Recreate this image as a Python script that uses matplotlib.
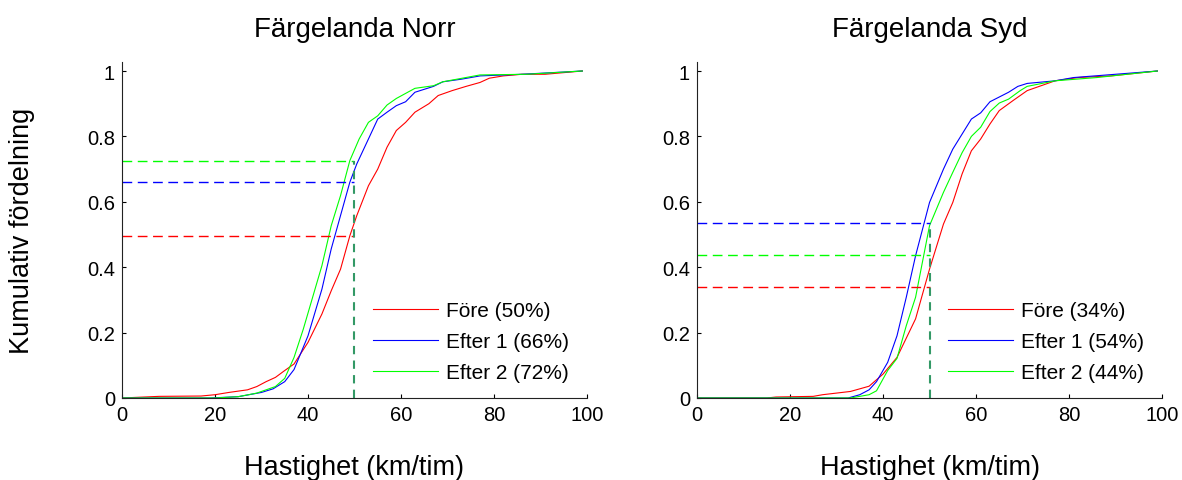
import matplotlib
matplotlib.use("Agg")
import matplotlib.pyplot as plt

plt.rcParams['font.family'] = ['Liberation Sans', 'DejaVu Sans']

# ---- data ----
norr_fore_x = [0, 8, 17, 20, 23, 27, 29, 31, 33, 35, 37, 40, 43, 45, 47, 49, 50.5, 53, 55, 57, 59, 61, 63, 66, 68, 71, 74, 77, 79, 82, 86, 91, 95, 99]
norr_fore_y = [0, 0.005, 0.006, 0.01, 0.017, 0.025, 0.035, 0.05, 0.063, 0.084, 0.104, 0.17, 0.257, 0.328, 0.394, 0.496, 0.558, 0.649, 0.70, 0.767, 0.818, 0.843, 0.874, 0.90, 0.925, 0.94, 0.953, 0.965, 0.978, 0.985, 0.99, 0.99, 0.995, 1.0]
norr_e1_x = [0, 19, 25, 30, 32.5, 35, 37, 40, 43, 45, 47, 49, 50.5, 53, 55, 57, 59, 61, 63, 67, 69, 73, 77, 86, 99]
norr_e1_y = [0, 0, 0.004, 0.017, 0.028, 0.05, 0.087, 0.19, 0.333, 0.456, 0.558, 0.66, 0.716, 0.792, 0.853, 0.874, 0.894, 0.906, 0.935, 0.953, 0.967, 0.975, 0.985, 0.99, 1.0]
norr_e2_x = [0, 20, 25, 29, 33, 35, 37, 39, 43, 45, 47, 49, 51, 53, 55, 57, 59, 63, 67, 69, 77, 87, 99]
norr_e2_y = [0, 0, 0.004, 0.015, 0.035, 0.06, 0.124, 0.211, 0.405, 0.527, 0.619, 0.726, 0.792, 0.843, 0.863, 0.896, 0.916, 0.947, 0.955, 0.967, 0.988, 0.99, 1.0]
norr_pct = [0.494, 0.66, 0.726]
norr_labels = ['Före (50%)', 'Efter 1 (66%)', 'Efter 2 (72%)']

syd_fore_x = [0, 15, 17, 25, 27, 30, 33, 37, 40, 43, 47, 50, 53, 55, 57, 59, 61, 63, 65, 68, 71, 77, 82, 89, 99]
syd_fore_y = [0, 0, 0.003, 0.005, 0.01, 0.015, 0.02, 0.036, 0.073, 0.124, 0.242, 0.394, 0.532, 0.598, 0.685, 0.756, 0.792, 0.838, 0.879, 0.91, 0.94, 0.97, 0.98, 0.985, 1.0]
syd_e1_x = [0, 32.5, 35, 37, 38.6, 41, 43, 45, 47, 50, 53, 55, 57, 59, 61, 63, 67, 69, 71, 77, 81, 99]
syd_e1_y = [0, 0, 0.01, 0.025, 0.05, 0.109, 0.19, 0.308, 0.435, 0.598, 0.70, 0.761, 0.807, 0.853, 0.872, 0.906, 0.935, 0.953, 0.962, 0.97, 0.98, 1.0]
syd_e2_x = [0, 33, 37, 38.6, 41, 43, 45, 47, 50, 53, 55, 57, 59, 61, 63, 65, 67, 69.5, 71, 77, 86, 99]
syd_e2_y = [0, 0, 0.01, 0.022, 0.084, 0.121, 0.221, 0.308, 0.527, 0.629, 0.69, 0.75, 0.80, 0.828, 0.876, 0.902, 0.914, 0.94, 0.953, 0.97, 0.98, 1.0]
syd_pct = [0.34, 0.535, 0.438]
syd_labels = ['Före (34%)', 'Efter 1 (54%)', 'Efter 2 (44%)']

limit = 50
colors = ['#ff0000', '#0000ff', '#00ff00']


def draw(ax, curves, pct, labels, title):
    for (x, y), c, lab in zip(curves, colors, labels):
        ax.plot(x, y, color=c, lw=0.8, label=lab)
    for p, c in zip(pct, colors):
        ax.plot([0, limit], [p, p], color=c, lw=1.0, dashes=(7, 4))
    ax.plot([limit, limit], [0, max(pct)], color='#339966', lw=1.5, dashes=(4, 3))
    ax.set_xlim(0, 100)
    ax.set_ylim(0, 1.0275)
    ax.set_xticks([0, 20, 40, 60, 80, 100])
    ax.set_yticks([0, 0.2, 0.4, 0.6, 0.8, 1])
    ax.set_yticklabels(['0', '0.2', '0.4', '0.6', '0.8', '1'])
    ax.spines['top'].set_visible(False)
    ax.spines['right'].set_visible(False)
    for s in ('left', 'bottom'):
        ax.spines[s].set_linewidth(0.8)
        ax.spines[s].set_color('#222222')
    ax.tick_params(direction='in', length=3, width=0.8, labelsize=14.5, pad=5)
    ax.set_title(title, fontsize=20, y=1.077, pad=0, va='baseline')
    ax.set_xlabel('Hastighet (km/tim)', fontsize=19.5, va='baseline')
    ax.xaxis.set_label_coords(0.5, -0.226)
    ax.legend(loc='lower right', frameon=False, fontsize=15, handlelength=3.1,
              handletextpad=0.4, labelspacing=0.58, borderaxespad=0,
              bbox_to_anchor=(0.98, 0.022))


fig = plt.figure(figsize=(11.82, 4.81), dpi=100)
ax1 = fig.add_axes([0.1032, 0.1705, 0.3934, 0.6985])
ax2 = fig.add_axes([0.5897, 0.1705, 0.3934, 0.6985])

draw(ax1, [(norr_fore_x, norr_fore_y), (norr_e1_x, norr_e1_y), (norr_e2_x, norr_e2_y)],
     norr_pct, norr_labels, 'Färgelanda Norr')
draw(ax2, [(syd_fore_x, syd_fore_y), (syd_e1_x, syd_e1_y), (syd_e2_x, syd_e2_y)],
     syd_pct, syd_labels, 'Färgelanda Syd')

ax1.set_ylabel('Kumulativ fördelning', fontsize=19.5, va='center')
ax1.yaxis.set_label_coords(-0.215, 0.5)

fig.savefig('out.png', dpi=100)
